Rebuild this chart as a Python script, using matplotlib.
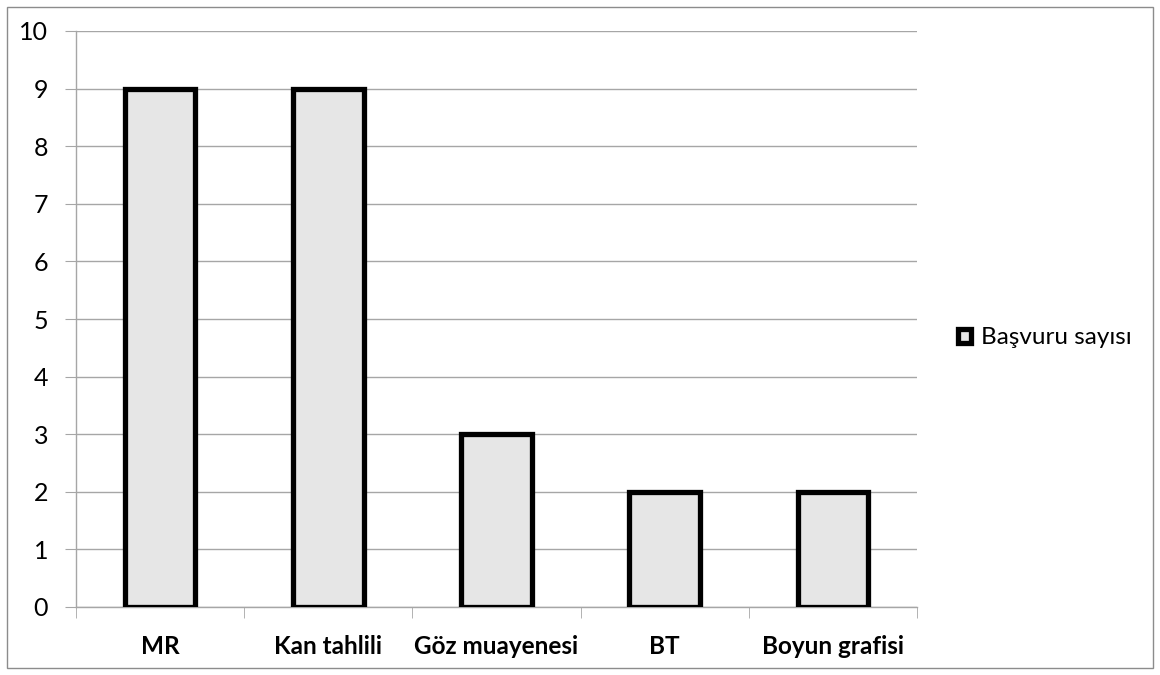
import matplotlib.pyplot as plt
from matplotlib.patches import Rectangle

categories = ["MR", "Kan tahlili", "Göz muayenesi", "BT", "Boyun grafisi"]
counts = [9, 9, 3, 2, 2]
series_name = "Başvuru sayısı"
y_ticks = list(range(0, 11))

plt.rcParams["font.family"] = ["Lato", "DejaVu Sans"]

W, H = 1160, 675
fig = plt.figure(figsize=(W / 100, H / 100), dpi=100)

# outer chart border
fig.patches.append(Rectangle((7 / W, 7 / H), 1146 / W, 661 / H, transform=fig.transFigure,
                             fill=False, edgecolor="#8c8c8c", linewidth=1.0))

ax = fig.add_axes([76 / W, 1 - 607 / H, (917 - 76) / W, (607 - 31) / H])

x = list(range(len(categories)))
ax.bar(x, counts, width=0.42, color="#e6e6e6", edgecolor="black", linewidth=3.8,
       zorder=3, label=series_name)

ax.set_xlim(-0.5, len(categories) - 0.5)
ax.set_ylim(0, 10)
ax.set_yticks(y_ticks)
ax.yaxis.grid(True, color="#a6a6a6", linewidth=1.0, zorder=0)
ax.tick_params(axis="y", length=8, color="#a6a6a6", labelsize=18, pad=12)

ax.set_xticks(x)
ax.set_xticklabels(categories, fontsize=17.5, fontweight="bold")
ax.tick_params(axis="x", length=0, pad=20)
ax.set_xticks([i - 0.5 for i in range(len(categories) + 1)], minor=True)
ax.tick_params(axis="x", which="minor", length=8, color="#a6a6a6")

for side in ["top", "right"]:
    ax.spines[side].set_visible(False)
for side in ["left", "bottom"]:
    ax.spines[side].set_color("#a6a6a6")
    ax.spines[side].set_linewidth(1.0)

leg = fig.legend(loc="center left", bbox_to_anchor=(958 / W, 1 - 338 / H), frameon=False,
                 fontsize=17.5, handlelength=0.55, handleheight=0.55, handletextpad=0.4,
                 borderpad=0, borderaxespad=0)

fig.savefig("out.png", dpi=100)
